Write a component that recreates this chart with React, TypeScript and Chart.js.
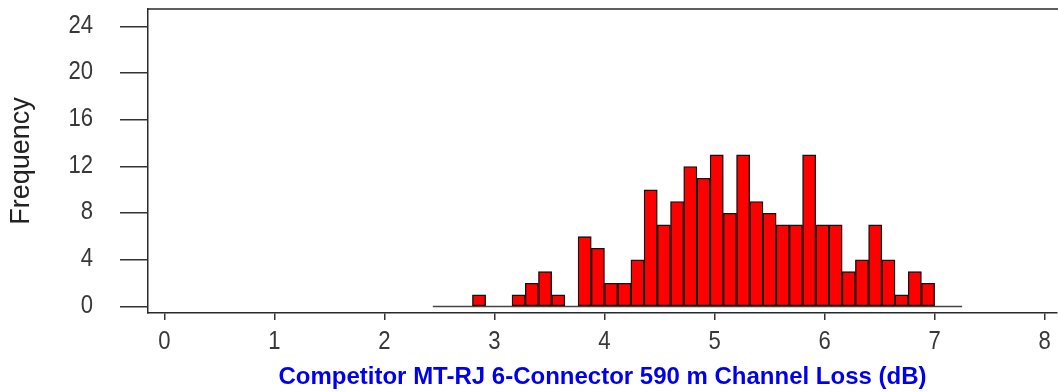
import React, { useEffect, useRef } from "react";
import { Chart, registerables } from "chart.js";

Chart.register(...registerables);

// Histogram bins: first bin starts at 2.80 dB, width 0.12 dB
const binStart = 2.8;
const binWidth = 0.12;
const binCounts = [
  1, 0, 0, 1, 2, 3, 1, 0, 6, 5, 2, 2, 4, 10, 7, 9, 12, 11, 13, 8, 13, 9, 8, 7, 7,
  13, 7, 7, 3, 4, 7, 4, 1, 3, 2,
];
const baselineRange = [2.44, 7.25];
const xTickValues = [0, 1, 2, 3, 4, 5, 6, 7, 8];
const yTickValues = [0, 4, 8, 12, 16, 20, 24];
const xTitle = "Competitor MT-RJ 6-Connector 590 m Channel Loss (dB)";
const yTitle = "Frequency";

const mainFont = "'Liberation Sans', Arial, sans-serif";

// Draws the condensed tick labels at the positions given by the chart's scales
const tickLabels = {
  id: "tickLabels",
  afterDraw(chart: any) {
    const { ctx } = chart;
    const xs = chart.scales.x;
    const ys = chart.scales.y;
    const squeeze = 0.85;
    ctx.save();
    ctx.fillStyle = "#383838";
    ctx.font = `26px ${mainFont}`;
    ctx.textBaseline = "middle";
    ctx.textAlign = "center";
    xTickValues.forEach((v) => {
      const px = xs.getPixelForValue(v);
      ctx.save();
      ctx.translate(px, 342);
      ctx.scale(squeeze, 1);
      ctx.fillText(String(v), 0, 0);
      ctx.restore();
    });
    ctx.textAlign = "right";
    yTickValues.forEach((v) => {
      const py = ys.getPixelForValue(v);
      ctx.save();
      ctx.translate(93, py - 1);
      ctx.scale(squeeze, 1);
      ctx.fillText(String(v), 0, 0);
      ctx.restore();
    });
    ctx.restore();
  },
};

const frameTop = {
  id: "frameTop",
  afterDraw(chart: any) {
    const { ctx, chartArea } = chart;
    ctx.save();
    ctx.strokeStyle = "#2a2a2a";
    ctx.lineWidth = 1.5;
    ctx.beginPath();
    ctx.moveTo(chartArea.left, chartArea.top);
    ctx.lineTo(chartArea.right + 2, chartArea.top);
    ctx.stroke();
    ctx.restore();
  },
};

export default function App() {
  const ref = useRef<HTMLCanvasElement | null>(null);

  useEffect(() => {
    document.body.style.margin = "0";
    const canvas = ref.current;
    if (!canvas) return;
    const barData = binCounts.map((v, i) => ({
      x: +(binStart + binWidth * (i + 0.5)).toFixed(3),
      y: v,
    }));
    const chart = new Chart(canvas, {
      type: "bar",
      data: {
        datasets: [
          {
            type: "bar",
            data: barData as any,
            backgroundColor: "#ff0000",
            borderColor: "#111111",
            borderWidth: 1.4,
            borderSkipped: false,
            categoryPercentage: 1,
            barPercentage: 1,
            order: 1,
          },
          {
            type: "line",
            data: baselineRange.map((x) => ({ x, y: 0 })) as any,
            borderColor: "#444444",
            borderWidth: 1.5,
            pointRadius: 0,
            order: 2,
          } as any,
        ],
      },
      options: {
        animation: false,
        responsive: false,
        layout: { padding: { top: 9, right: 1, left: 0, bottom: 0 } },
        plugins: {
          legend: { display: false },
          tooltip: { enabled: false },
        },
        scales: {
          x: {
            type: "linear",
            offset: false,
            min: -0.148,
            max: 8.112,
            afterFit: (s: any) => {
              s.height = 79;
              s.paddingLeft = 0;
              s.paddingRight = 0;
            },
            afterBuildTicks: (s: any) => {
              s.ticks = xTickValues.map((v) => ({ value: v }));
            },
            grid: {
              display: true,
              offset: false,
              drawOnChartArea: false,
              drawTicks: true,
              tickLength: 7,
              color: "#333333",
              lineWidth: 1.5,
            },
            border: { display: true, color: "#2a2a2a", width: 1.5 },
            ticks: { display: false },
            title: {
              display: true,
              text: xTitle,
              color: "#0000f0",
              font: { family: mainFont, size: 24, weight: "bold" },
              padding: { top: 0, bottom: 0 },
            },
          },
          y: {
            type: "linear",
            min: -0.55,
            max: 25.5,
            afterFit: (s: any) => {
              s.width = 148;
              s.paddingTop = 0;
              s.paddingBottom = 0;
            },
            afterBuildTicks: (s: any) => {
              s.ticks = yTickValues.map((v) => ({ value: v }));
            },
            grid: {
              display: true,
              drawOnChartArea: false,
              drawTicks: true,
              tickLength: 28,
              color: "#333333",
              lineWidth: 1.5,
            },
            border: { display: true, color: "#2a2a2a", width: 1.5 },
            ticks: { display: false },
            title: {
              display: true,
              text: yTitle,
              color: "#222222",
              font: { family: mainFont, size: 27 },
              padding: { top: 5, bottom: 0 },
            },
          },
        },
      },
      plugins: [frameTop, tickLabels],
    });
    return () => chart.destroy();
  }, []);

  return (
    <div style={{ width: 1058, height: 392, background: "#ffffff" }}>
      <canvas ref={ref} width={1058} height={392} style={{ display: "block" }} />
    </div>
  );
}
